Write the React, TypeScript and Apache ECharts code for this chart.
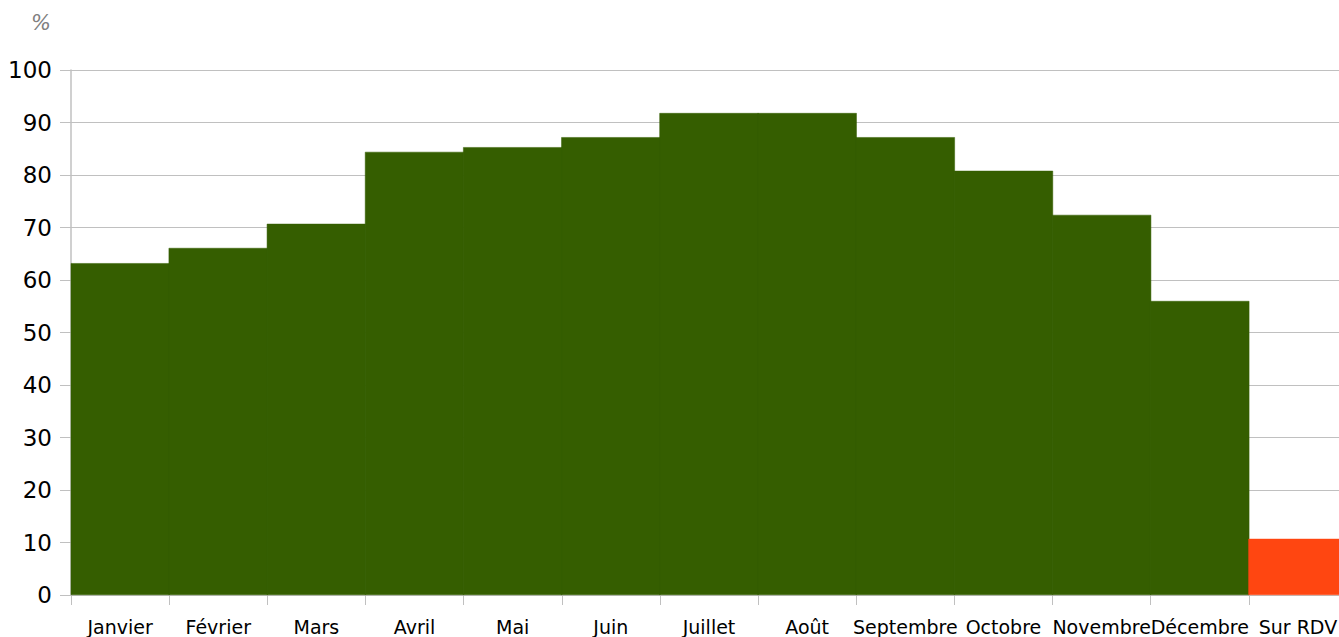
import React, { useEffect, useRef } from "react";
import * as echarts from "echarts";

const categories = ["Janvier", "Février", "Mars", "Avril", "Mai", "Juin", "Juillet", "Août", "Septembre", "Octobre", "Novembre", "Décembre", "Sur RDV"];
const values = [63.2, 66.1, 70.7, 84.4, 85.3, 87.2, 91.8, 91.8, 87.2, 80.8, 72.4, 56.0, 10.7];
const highlightCategory = "Sur RDV";
const unitLabel = "%";

export default function App() {
  const ref = useRef<HTMLDivElement>(null);
  useEffect(() => {
    if (!ref.current) return;
    const chart = echarts.init(ref.current, undefined, { renderer: "svg" });
    const font = "DejaVu Sans";
    chart.setOption({
      animation: false,
      backgroundColor: "#ffffff",
      grid: { left: 71, right: 0, top: 70, bottom: 42, containLabel: false },
      graphic: [
        {
          type: "text",
          left: 31,
          top: 12,
          style: { text: unitLabel, fill: "#808080", fontFamily: font, fontStyle: "italic", fontSize: 21 },
        },
      ],
      xAxis: {
        type: "category",
        data: categories,
        axisLine: { show: true, lineStyle: { color: "#c0c0c0", width: 1 } },
        axisTick: { show: true, alignWithLabel: false, length: 10, lineStyle: { color: "#c0c0c0" } },
        axisLabel: { color: "#000", fontFamily: font, fontSize: 19, margin: 22, interval: 0 },
        splitLine: { show: false },
      },
      yAxis: {
        type: "value",
        min: 0,
        max: 100,
        interval: 10,
        axisLine: { show: true, lineStyle: { color: "#c0c0c0", width: 1.5 } },
        axisTick: { show: true, length: 11, lineStyle: { color: "#c0c0c0" } },
        axisLabel: { color: "#000", fontFamily: font, fontSize: 23, margin: 19 },
        splitLine: { show: true, lineStyle: { color: "#c0c0c0", width: 1 } },
      },
      series: [
        {
          type: "bar",
          barCategoryGap: 0,
          barWidth: "101%",
          data: categories.map((c, i) => {
            const col = c === highlightCategory ? "#ff4611" : "#355e00";
            return {
              value: values[i],
              itemStyle: { color: col, borderColor: col, borderWidth: 0.5 },
            };
          }),
        },
      ],
    });
    return () => chart.dispose();
  }, []);
  return (
    <div style={{ position: "fixed", left: 0, top: 0, width: 1339, height: 637, overflow: "hidden" }}>
      <div ref={ref} style={{ position: "absolute", left: 0, top: 0, width: 1347, height: 637 }} />
    </div>
  );
}
